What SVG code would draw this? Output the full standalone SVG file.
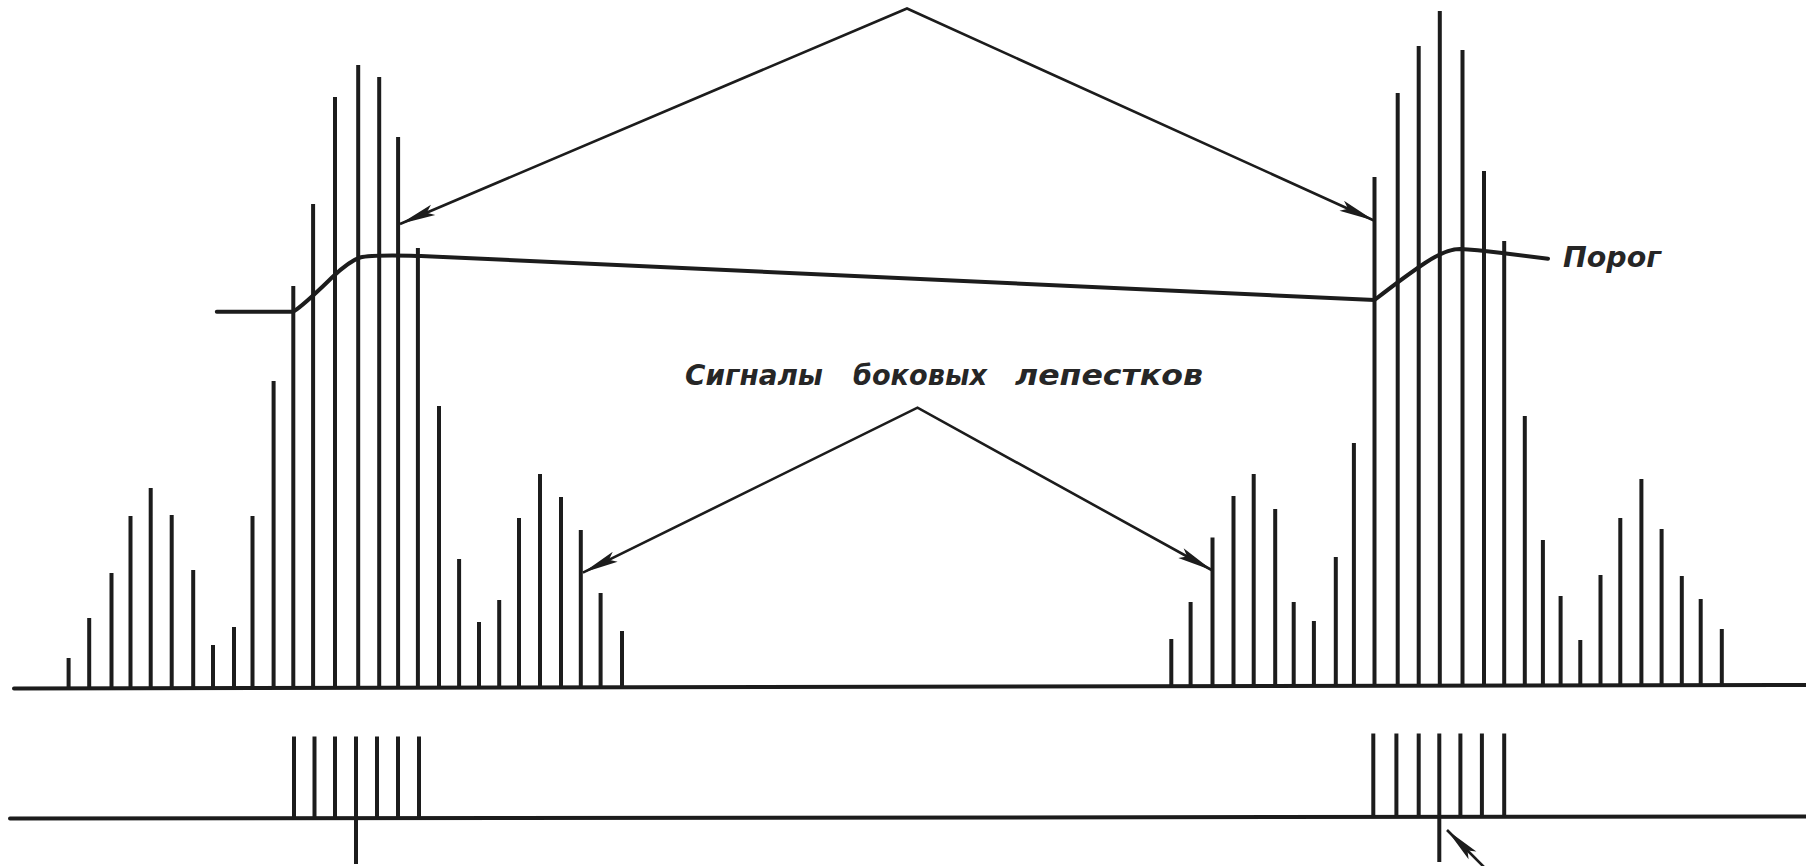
<svg xmlns="http://www.w3.org/2000/svg" width="1806" height="866" viewBox="0 0 1806 866">
<style>
.bar{stroke:#1c1c1c;stroke-width:4;stroke-linecap:butt;fill:none}
.axis{stroke:#1c1c1c;stroke-width:4;fill:none;stroke-linecap:round}
.thr{stroke:#1c1c1c;stroke-width:4;fill:none;stroke-linecap:round;stroke-linejoin:round}
.conn{stroke:#1c1c1c;stroke-width:2.6;fill:none}
.lbl{font-family:"DejaVu Sans","Liberation Sans",sans-serif;font-style:italic;font-weight:bold;font-size:28px;fill:#262626}
</style>
<defs>
<marker id="ah" markerUnits="userSpaceOnUse" viewBox="-40 -8 42 16" refX="0" refY="0" markerWidth="42" markerHeight="16" orient="auto-start-reverse">
<path d="M0,0 L-36,-5.5 L-29,0 L-36,5.5 Z" fill="#1c1c1c"/>
</marker>
</defs>
<rect width="1806" height="866" fill="#ffffff"/>

<g id="axes">
<line class="axis" x1="14" y1="688.5" x2="1806" y2="685"/>
<line class="axis" x1="10" y1="818.5" x2="1806" y2="816.5"/>
</g>

<g id="left-echo">
<path class="bar" d="M68.6,688V658 M89.2,688V618 M111.5,688V573 M130.5,688V516 M150.7,688V488 M171.7,688V515 M193.2,688V570 M213,688V645 M234,688V627 M252.5,688V516 M273.6,688V381 M293.3,688V286 M313.1,688V204 M335,688V97 M358.2,688V65 M379.2,688V77 M398.1,688V137 M417.9,688V248 M439,688V406 M459.1,688V559 M479,688V622 M499.2,688V600 M519,688V518 M540,688V474 M561,688V497 M580.8,688V530 M600.6,688V593 M622,688V631"/>
</g>

<g id="right-echo">
<path class="bar" d="M1171.3,686V639 M1190.6,686V602 M1212.5,686V537.5 M1233.5,686V496 M1253.7,686V474 M1275.2,686V509 M1293.7,686V602 M1313.9,686V621 M1335.8,686V557 M1353.9,686V443 M1374.5,686V177 M1397.7,686V93 M1418.7,686V46 M1439.8,686V11 M1462.5,686V50 M1484,686V171 M1504.2,686V241 M1524.8,686V416 M1542.9,686V540 M1560.6,686V596 M1580.3,686V640 M1600.5,686V575 M1620.3,686V518 M1641.4,686V479 M1661.6,686V529 M1681.8,686V576 M1700.7,686V599 M1721.8,686V629"/>
</g>

<g id="left-output">
<path class="bar" d="M294,818V736.5 M314.5,818V736.5 M335,818V736.5 M356,818V736.5 M377,818V736.5 M398,818V736.5 M419,818V736.5 M356,818V864"/>
</g>

<g id="right-output">
<path class="bar" d="M1373.3,817V733.5 M1396.4,817V733.5 M1418.7,817V733.5 M1439.3,817V733.5 M1460.4,817V733.5 M1481.9,817V733.5 M1504.2,817V733.5 M1439.3,817V862"/>
</g>

<g id="threshold">
<path class="thr" d="M216.8,311.7 L293.3,311.7 C305,304 318,291 332.5,277 C342,268 350,261 360,257.5 C372,254.5 395,255.5 421,256 L1374.5,300 C1390,288 1410,273 1425,263 C1440,253 1450,249 1460,249 C1475,249.5 1490,251.5 1504,253.3 L1548,258.7"/>
<text class="lbl" x="1563" y="266.5" textLength="98" lengthAdjust="spacingAndGlyphs">Порог</text>
</g>

<g id="sidelobe-label">
<text class="lbl" y="385"><tspan x="685" textLength="138" lengthAdjust="spacingAndGlyphs">Сигналы</tspan><tspan x="853" textLength="134" lengthAdjust="spacingAndGlyphs">боковых</tspan><tspan x="1015" textLength="188" lengthAdjust="spacingAndGlyphs">лепестков</tspan></text>
</g>

<g id="connectors">
<polyline class="conn" points="400,224 907,8.5 1374.5,220.7" marker-start="url(#ah)" marker-end="url(#ah)"/>
<polyline class="conn" points="582.9,572.7 917.5,407.7 1212.5,570.5" marker-start="url(#ah)" marker-end="url(#ah)"/>
<line class="conn" x1="1500" y1="883" x2="1447" y2="830" marker-end="url(#ah)"/>
</g>
</svg>
